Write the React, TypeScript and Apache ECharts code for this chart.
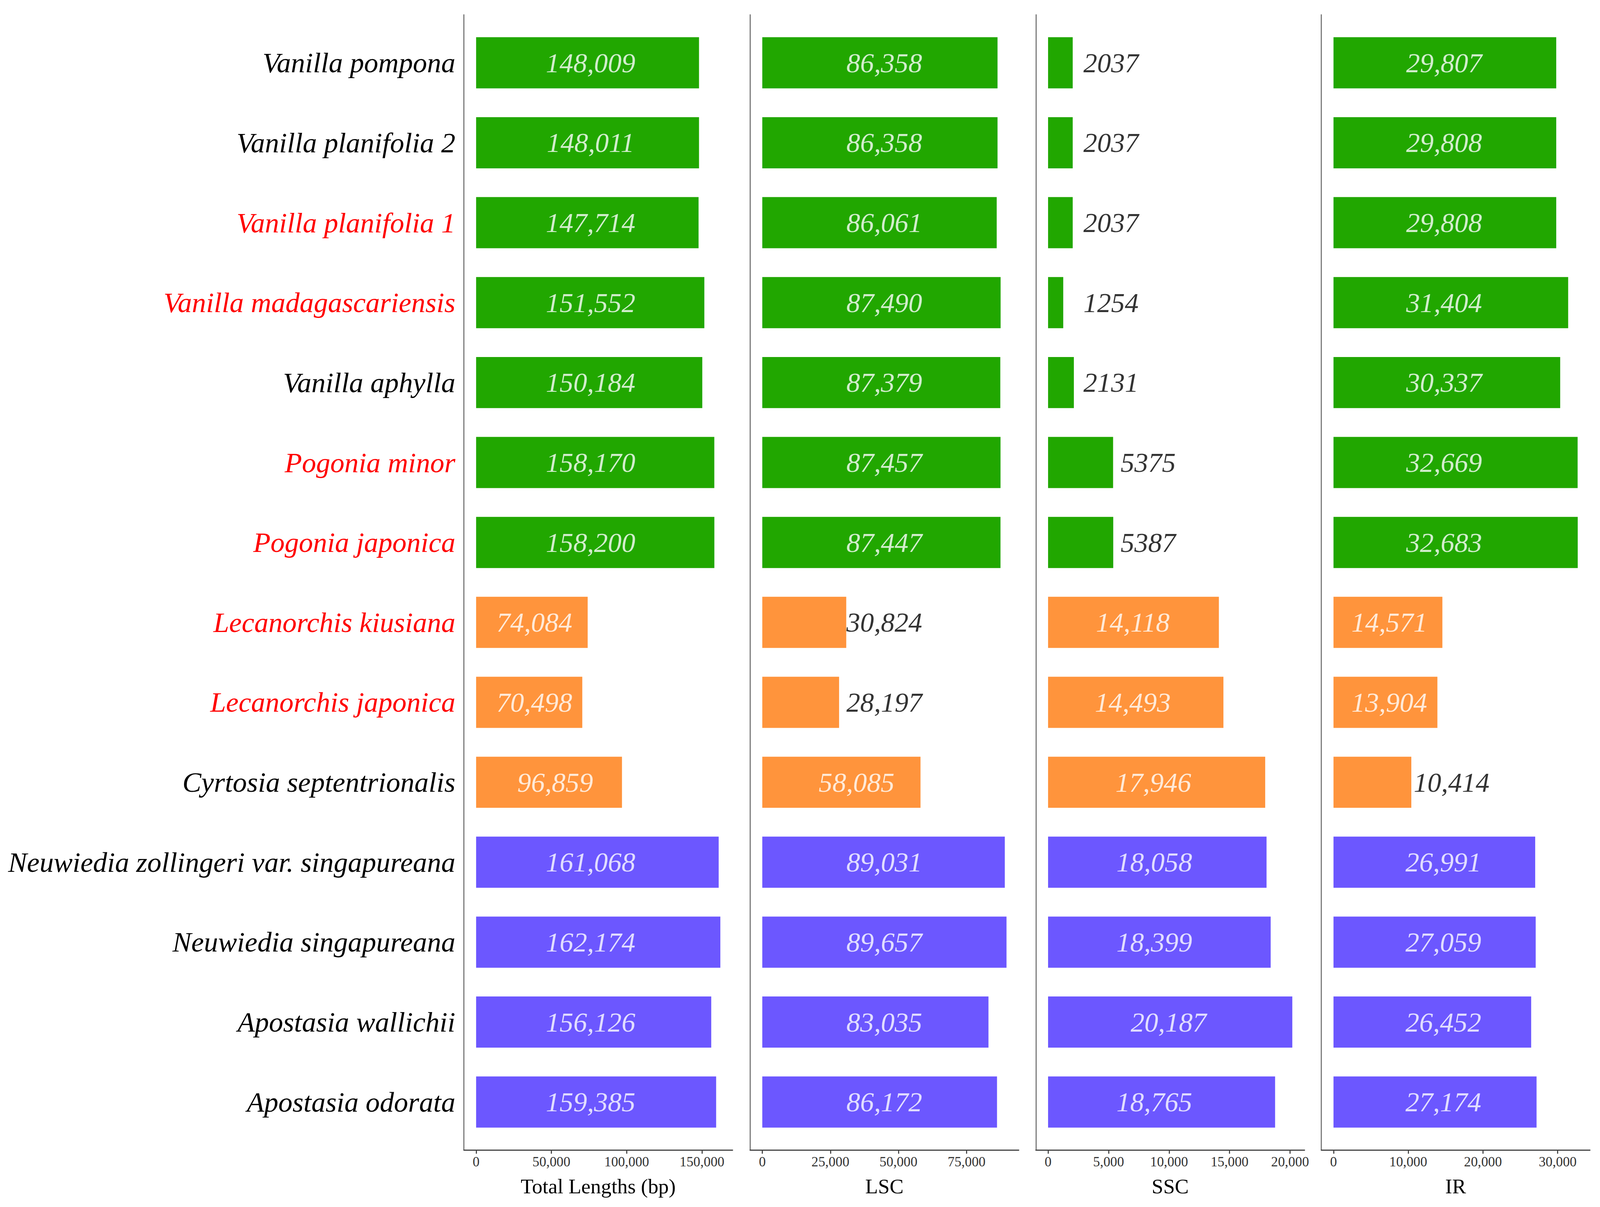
import React, { useEffect, useRef, useState } from "react";
import * as echarts from "echarts";

const categories = [
  "Vanilla pompona",
  "Vanilla planifolia 2",
  "Vanilla planifolia 1",
  "Vanilla madagascariensis",
  "Vanilla aphylla",
  "Pogonia minor",
  "Pogonia japonica",
  "Lecanorchis kiusiana",
  "Lecanorchis japonica",
  "Cyrtosia septentrionalis",
  "Neuwiedia zollingeri var. singapureana",
  "Neuwiedia singapureana",
  "Apostasia wallichii",
  "Apostasia odorata",
];
const redNames = [false, false, true, true, false, true, true, true, true, false, false, false, false, false];
const groups = ["g", "g", "g", "g", "g", "g", "g", "o", "o", "o", "p", "p", "p", "p"];

const totalValues = [148009, 148011, 147714, 151552, 150184, 158170, 158200, 74084, 70498, 96859, 161068, 162174, 156126, 159385];
const lscValues = [86358, 86358, 86061, 87490, 87379, 87457, 87447, 30824, 28197, 58085, 89031, 89657, 83035, 86172];
const sscValues = [2037, 2037, 2037, 1254, 2131, 5375, 5387, 14118, 14493, 17946, 18058, 18399, 20187, 18765];
const irValues = [29807, 29808, 29808, 31404, 30337, 32669, 32683, 14571, 13904, 10414, 26991, 27059, 26452, 27174];

// where each value label sits (data units along the x axis)
const totalLabelX = [76000, 76000, 76000, 76000, 76000, 76000, 76000, 38700, 38700, 52500, 76000, 76000, 76000, 76000];
const lscLabelX = [44800, 44800, 44800, 44800, 44800, 44800, 44800, 44800, 44800, 34600, 44800, 44800, 44800, 44800];
const sscLabelX = [5200, 5200, 5200, 5200, 5200, 8270, 8270, 7000, 7000, 8700, 8780, 8780, 9960, 8780];
const irLabelX = [14800, 14800, 14800, 14800, 14800, 14800, 14800, 7460, 7460, 15800, 14700, 14700, 14700, 14700];

const totalDark = [false, false, false, false, false, false, false, false, false, false, false, false, false, false];
const lscDark = [false, false, false, false, false, false, false, true, true, false, false, false, false, false];
const sscDark = [true, true, true, true, true, true, true, false, false, false, false, false, false, false];
const irDark = [false, false, false, false, false, false, false, false, false, true, false, false, false, false];

const totalTicks = [0, 50000, 100000, 150000];
const lscTicks = [0, 25000, 50000, 75000];
const sscTicks = [0, 5000, 10000, 15000, 20000];
const irTicks = [0, 10000, 20000, 30000];

const panelTitles = ["Total Lengths (bp)", "LSC", "SSC", "IR"];

const COLORS: Record<string, string> = { g: "#21A700", o: "#FF943C", p: "#6C57FF" };
const FONT = "'Liberation Serif', 'Times New Roman', serif";

const withComma = (v: number) => String(v).replace(/\B(?=(\d{3})+(?!\d))/g, ",");
const fmtValue = (v: number) => (v >= 10000 ? withComma(v) : String(v));

const REF_W = 4294;
const REF_H = 3090;

function viewport() {
  const w = document.documentElement.clientWidth || window.innerWidth || REF_W;
  const h = document.documentElement.clientHeight || window.innerHeight || REF_H;
  return { w: Math.min(w, REF_W), h: Math.min(h, REF_H) };
}

export default function App() {
  const ref = useRef<HTMLDivElement>(null);
  const [size, setSize] = useState<{ w: number; h: number } | null>(null);

  useEffect(() => {
    document.body.style.margin = "0";
    document.body.style.overflow = "hidden";
    document.documentElement.style.overflow = "hidden";
    setSize(viewport());
  }, []);

  useEffect(() => {
    if (!ref.current || !size) return;
    const chart = echarts.init(ref.current, null, { renderer: "svg", width: size.w, height: size.h });
    const sx = size.w / REF_W;
    const sy = size.h / REF_H;
    const fs = Math.min(sx, sy);

    const panels = [
      { values: totalValues, labelX: totalLabelX, dark: totalDark, ticks: totalTicks },
      { values: lscValues, labelX: lscLabelX, dark: lscDark, ticks: lscTicks },
      { values: sscValues, labelX: sscLabelX, dark: sscDark, ticks: sscTicks },
      { values: irValues, labelX: irLabelX, dark: irDark, ticks: irTicks },
    ];

    const lefts = [1245, 2013, 2780, 3546];
    const panelW = 721 * sx;
    const top = 38 * sy;
    const H = 2906 * sy;
    const unit = H / (categories.length - 1 + 1.2);
    const barTop = top + 0.1 * unit;
    const barH = unit * categories.length;

    const grid: any[] = [];
    const xAxis: any[] = [];
    const yAxis: any[] = [];
    const series: any[] = [];

    panels.forEach((p, k) => {
      const mx = Math.max(...p.values);
      const min = -0.05 * mx;
      const max = 1.05 * mx;
      const left = lefts[k] * sx;
      grid.push({ left, width: panelW, top, height: H, outerBoundsMode: "none" });
      grid.push({ left, width: panelW, top: barTop, height: barH, outerBoundsMode: "none" });
      const ga = 2 * k;
      const gb = 2 * k + 1;
      xAxis.push({
        gridIndex: ga,
        type: "value",
        min,
        max,
        splitLine: { show: false },
        axisLine: { show: true, onZero: false, lineStyle: { color: "#444", width: 3 * fs } },
        axisTick: { show: true, length: 10 * fs, customValues: p.ticks, lineStyle: { color: "#444", width: 3 * fs } },
        axisLabel: {
          show: true,
          customValues: p.ticks,
          formatter: (v: number) => withComma(v),
          fontFamily: FONT,
          fontSize: 37 * fs,
          color: "#333",
          margin: 14 * fs,
        },
        name: panelTitles[k],
        nameLocation: "middle",
        nameGap: 66 * sy,
        nameTextStyle: { fontFamily: FONT, fontSize: 56 * fs, color: "#000" },
      });
      xAxis.push({ gridIndex: gb, type: "value", min, max, show: false });
      yAxis.push({
        gridIndex: ga,
        type: "value",
        min: 0,
        max: 1,
        axisLine: { show: true, onZero: false, lineStyle: { color: "#777", width: 3 * fs } },
        axisTick: { show: false },
        axisLabel: { show: false },
        splitLine: { show: false },
      });
      yAxis.push({
        gridIndex: gb,
        type: "category",
        inverse: true,
        data: categories,
        axisLine: { show: false, onZero: false },
        axisTick: { show: false },
        splitLine: { show: false },
        axisLabel: {
          show: k === 0,
          interval: 0,
          margin: 23 * sx,
          fontFamily: FONT,
          fontStyle: "italic",
          fontSize: 76 * fs,
          color: (_v: any, i: number) => (redNames[i] ? "#FF0000" : "#000000"),
        },
      });
      series.push({
        type: "bar",
        xAxisIndex: gb,
        yAxisIndex: gb,
        barWidth: "64%",
        data: p.values.map((v, i) => ({ value: v, itemStyle: { color: COLORS[groups[i]] } })),
        silent: true,
      });
      series.push({
        type: "scatter",
        xAxisIndex: gb,
        yAxisIndex: gb,
        symbolSize: 1,
        itemStyle: { color: "rgba(0,0,0,0)" },
        silent: true,
        z: 5,
        data: p.labelX.map((x, i) => ({
          value: [x, i],
          label: {
            show: true,
            position: "inside",
            formatter: fmtValue(p.values[i]),
            fontFamily: FONT,
            fontStyle: "italic",
            fontSize: 74 * fs,
            color: p.dark[i] ? "#000000" : "#FFFFFF",
          },
        })),
      });
    });

    chart.setOption({
      animation: false,
      backgroundColor: "#FFFFFF",
      grid,
      xAxis,
      yAxis,
      series,
    });
    return () => chart.dispose();
  }, [size]);

  return (
    <div
      ref={ref}
      style={{ width: size ? size.w : REF_W, height: size ? size.h : REF_H, overflow: "hidden" }}
    />
  );
}
